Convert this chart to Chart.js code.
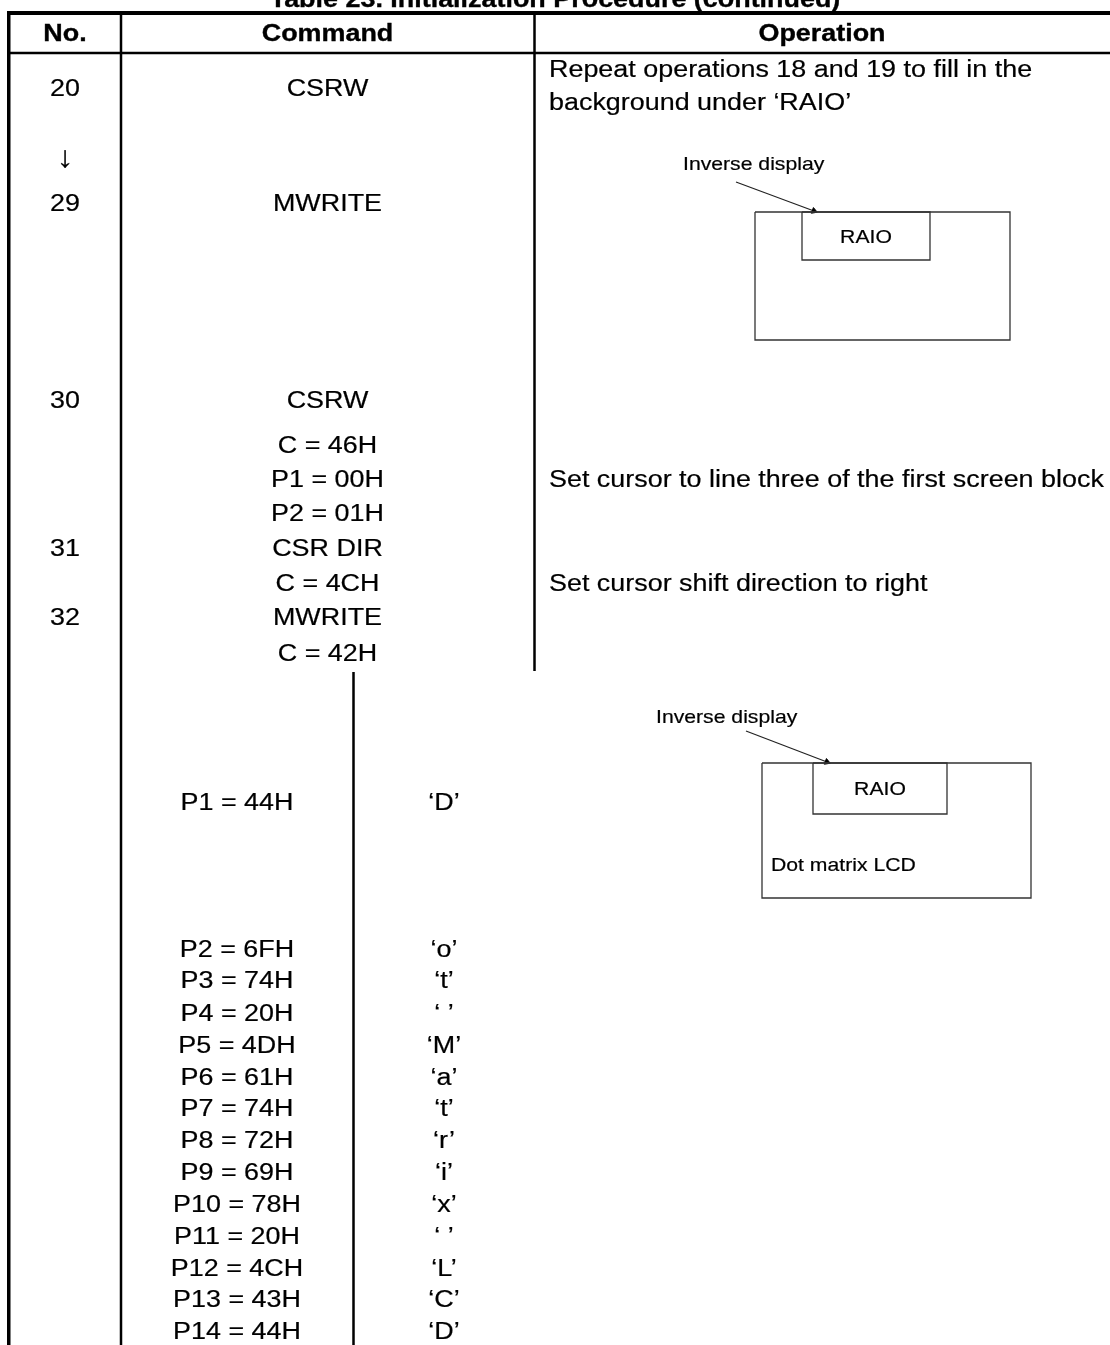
<!DOCTYPE html>
<html>
<head>
<meta charset="utf-8">
<script src="https://cdn.jsdelivr.net/npm/chart.js@4.4.0/dist/chart.umd.min.js"></script>
<style>
  html, body { margin: 0; padding: 0; background: #fff; }
  #wrap { position: relative; width: 1110px; height: 1345px; }
</style>
</head>
<body>
<div id="wrap"><canvas id="c"></canvas></div>
<script>
// ---------- content ----------
const tableTitle = 'Table 23. Initialization Procedure (continued)';
const headers = ['No.', 'Command', 'Operation'];
const stepNos = ['20', '↓', '29', '30', '31', '32'];
const commands = ['CSRW', 'MWRITE', 'CSRW', 'C = 46H', 'P1 = 00H', 'P2 = 01H', 'CSR DIR', 'C = 4CH', 'MWRITE', 'C = 42H'];
const operations = ['Repeat operations 18 and 19 to fill in the', 'background under \u2018RAIO\u2019',
                    'Set cursor to line three of the first screen block', 'Set cursor shift direction to right'];
const params = ['P1 = 44H', 'P2 = 6FH', 'P3 = 74H', 'P4 = 20H', 'P5 = 4DH', 'P6 = 61H', 'P7 = 74H',
                'P8 = 72H', 'P9 = 69H', 'P10 = 78H', 'P11 = 20H', 'P12 = 4CH', 'P13 = 43H', 'P14 = 44H'];
const paramChars = ['D', 'o', 't', ' ', 'M', 'a', 't', 'r', 'i', 'x', ' ', 'L', 'C', 'D'];
const diagramLabels = ['Inverse display', 'RAIO', 'Dot matrix LCD'];

// ---------- layout (page units) ----------
const stepNoY = [88, 156, 203, 400, 548, 617];
const stepNoSize = [23.5, 30, 23.5, 23.5, 23.5, 23.5];
const commandY = [88, 203, 400, 445, 479, 513, 548, 583, 617, 653];
const operationY = [69, 102, 479, 583];
const paramY = [802, 949, 980, 1013, 1045, 1077, 1108, 1140, 1172, 1204, 1236, 1268, 1299, 1331];
const colCenter = { no: 65, cmd: 327.5, param: 237, chr: 444, op: 549 };
const rules = [ // x1, y1, x2, y2, width
  [7, 13, 1110, 13, 4], [7, 53, 1110, 53, 2.5],
  [8.75, 11, 8.75, 1345, 3.5], [121, 13, 121, 1345, 2.5],
  [534.5, 13, 534.5, 671, 2.5], [353.5, 672, 353.5, 1345, 2.5]
];
const boxes = [ // x1, y1, x2, y2
  [755, 212, 1010, 340], [802, 212, 930, 260],
  [762, 763, 1031, 898], [813, 763, 947, 814]
];
const arrows = [[736, 182, 814, 211], [746, 731, 827, 762]];
const diagramText = [ // label index, x, y, align
  [0, 683, 163, 'left'], [1, 866, 236, 'center'],
  [0, 656, 716, 'left'], [1, 880, 788, 'center'], [2, 771, 864, 'left']
];
const FONT = '"Liberation Sans", Arial, sans-serif';
const XS = 1.145;
const BODY = 23.5, SMALL = 18.5;

// ---------- datasets ----------
const datasets = [];
rules.forEach(r => datasets.push({
  data: [{x: r[0], y: r[1]}, {x: r[2], y: r[3]}],
  showLine: true, borderColor: '#000', borderWidth: r[4], pointRadius: 0, borderCapStyle: 'butt'
}));
boxes.forEach(b => datasets.push({
  data: [{x: b[0], y: b[1]}, {x: b[2], y: b[1]}, {x: b[2], y: b[3]}, {x: b[0], y: b[3]}, {x: b[0], y: b[1]}],
  showLine: true, borderColor: '#333', borderWidth: 1.3, pointRadius: 0
}));
arrows.forEach(a => {
  const ang = Math.atan2(a[3] - a[1], a[2] - a[0]) * 180 / Math.PI + 90;
  datasets.push({
    data: [{x: a[0], y: a[1]}, {x: a[2], y: a[3]}],
    showLine: true, borderColor: '#222', borderWidth: 1.2,
    pointRadius: [0, 3.5], pointStyle: 'triangle', rotation: ang,
    pointBackgroundColor: '#000', pointBorderColor: '#000', pointBorderWidth: 1
  });
});

const textPlugin = {
  id: 'tableText',
  afterDatasetsDraw(chart) {
    const {ctx, scales: {x, y}} = chart;
    const put = (txt, xv, yv, align, size, bold) => {
      ctx.save();
      ctx.font = (bold ? 'bold ' : '') + size + 'px ' + FONT;
      ctx.fillStyle = '#000';
      ctx.strokeStyle = '#000';
      ctx.lineWidth = bold ? 0.35 : 0.2;
      ctx.textAlign = align;
      ctx.textBaseline = 'alphabetic';
      ctx.translate(x.getPixelForValue(xv), y.getPixelForValue(yv) + size * 0.358);
      ctx.scale(XS, 1);
      ctx.fillText(txt, 0, 0);
      ctx.strokeText(txt, 0, 0);
      ctx.restore();
    };
    put(tableTitle, 555, -1.5, 'center', 23.5, true);
    put(headers[0], colCenter.no, 33, 'center', 23.5, true);
    put(headers[1], colCenter.cmd, 33, 'center', 23.5, true);
    put(headers[2], 822, 33, 'center', 23.5, true);
    stepNos.forEach((t, i) => put(t, colCenter.no, stepNoY[i], 'center', stepNoSize[i]));
    commands.forEach((t, i) => put(t, colCenter.cmd, commandY[i], 'center', BODY));
    operations.forEach((t, i) => put(t, colCenter.op, operationY[i], 'left', BODY));
    params.forEach((t, i) => put(t, colCenter.param, paramY[i], 'center', BODY));
    paramChars.forEach((c, i) => put('\u2018' + c + '\u2019', colCenter.chr, paramY[i], 'center', BODY));
    diagramText.forEach(d => put(diagramLabels[d[0]], d[1], d[2], d[3], SMALL));
  }
};

new Chart(document.getElementById('c'), {
  type: 'scatter',
  data: { datasets },
  options: {
    responsive: true, maintainAspectRatio: false, animation: false,
    layout: { padding: 0, autoPadding: false },
    plugins: { legend: { display: false }, tooltip: { enabled: false }, title: { display: false } },
    scales: {
      x: { type: 'linear', min: 0, max: 1110, display: false },
      y: { type: 'linear', min: 0, max: 1345, reverse: true, display: false }
    }
  },
  plugins: [textPlugin]
});
</script>
</body>
</html>
